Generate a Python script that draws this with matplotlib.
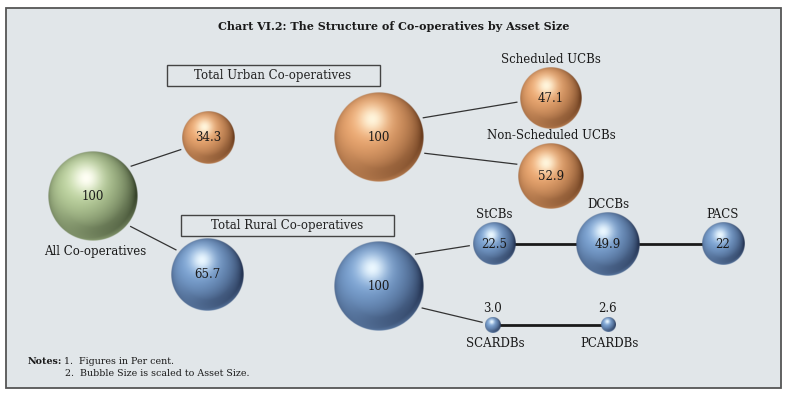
import numpy as np
import matplotlib.pyplot as plt
from matplotlib.patches import Rectangle

# ---- data ----
node_names = ['all', 'urban', 'rural', 'urban_tot', 'sched', 'nonsched',
              'rural_tot', 'stcb', 'dccb', 'pacs', 'scardb', 'pcardb']
node_values = [100, 34.3, 65.7, 100, 47.1, 52.9, 100, 22.5, 49.9, 22, 3.0, 2.6]
value_labels = ['100', '34.3', '65.7', '100', '47.1', '52.9', '100',
                '22.5', '49.9', '22', '3.0', '2.6']
name_labels = ['All Co-operatives', '', '', '', 'Scheduled UCBs', 'Non-Scheduled UCBs',
               '', 'StCBs', 'DCCBs', 'PACS', 'SCARDBs', 'PCARDBs']
groups = ['green', 'orange', 'blue', 'orange', 'orange', 'orange',
          'blue', 'blue', 'blue', 'blue', 'blue', 'blue']

# ---- layout (pixel space, y down) ----
pos = {'all': (93, 196), 'urban': (208, 137.5), 'rural': (207, 275),
       'urban_tot': (379, 137.5), 'sched': (551, 98), 'nonsched': (551, 176),
       'rural_tot': (379, 286), 'stcb': (494, 244), 'dccb': (608, 244),
       'pacs': (723, 244), 'scardb': (493, 325), 'pcardb': (608, 325)}
# where the value / name text goes
value_where = {'scardb': 'above', 'pcardb': 'above'}
name_where = {'all': 'below', 'scardb': 'below', 'pcardb': 'below'}
# thin connectors: (from, to, angle on from, angle on to) degrees, y down
thin_links = [('all', 'urban', -38, 156), ('all', 'rural', 39, -141),
              ('urban_tot', 'sched', -24, 173), ('urban_tot', 'nonsched', 19, -161),
              ('rural_tot', 'stcb', -41, 176), ('rural_tot', 'scardb', 27, 194)]
thick_links = [('stcb', 'dccb'), ('dccb', 'pacs'), ('scardb', 'pcardb')]

R100 = 45.0
colours = {'green': ((0.76, 0.85, 0.64), (1.0, 1.0, 0.96), (0.22, 0.27, 0.17)),
           'orange': ((0.95, 0.68, 0.46), (1.0, 0.96, 0.86), (0.42, 0.24, 0.12)),
           'blue': ((0.50, 0.66, 0.85), (0.92, 0.97, 1.0), (0.14, 0.20, 0.32))}

bg = '#e1e6e9'
serif = 'DejaVu Serif'


def sphere(base, light, dark, n=201):
    t = np.linspace(-1, 1, n)
    u, v = np.meshgrid(t, -t)
    rho = np.sqrt(u**2 + v**2)
    z = np.sqrt(np.clip(1 - rho**2, 0, 1))
    L = np.array([-0.3, 0.35, 0.88])
    L = L / np.linalg.norm(L)
    diff = np.clip(u * L[0] + v * L[1] + z * L[2], 0, 1)
    base = np.array(base); light = np.array(light); dark = np.array(dark)
    col = dark + (base - dark) * (diff[..., None] ** 0.9)
    spec = np.exp(-((u + 0.15)**2 + (v - 0.4)**2) / 0.1)
    col = col + (light - col) * spec[..., None]
    rim = np.clip(-v, 0, 1) * np.clip(rho - 0.7, 0, 1) / 0.3
    col = col + (base - col) * (0.6 * rim[..., None])
    col = np.clip(col, 0, 1)
    alpha = np.clip((1 - rho) * n / 2, 0, 1)
    return np.dstack([col, alpha])


fig = plt.figure(figsize=(7.89, 3.95), dpi=100)
ax = fig.add_axes([0, 0, 1, 1])
ax.set_xlim(0, 789)
ax.set_ylim(395, 0)
ax.axis('off')

ax.add_patch(Rectangle((6, 7.5), 775, 380.5, facecolor=bg, edgecolor='#555555', lw=1.3, zorder=0))

ax.text(394, 26, 'Chart VI.2: The Structure of Co-operatives by Asset Size',
        family=serif, weight='bold', fontsize=8, ha='center', va='center', color='#1a1a1a')

# boxes
for cx, cy, txt in [(273, 75.5, 'Total Urban Co-operatives'), (287, 225.5, 'Total Rural Co-operatives')]:
    ax.add_patch(Rectangle((cx - 105.5, cy - 10.5), 213, 21, facecolor=bg, edgecolor='#444444', lw=1.0, zorder=2))
    ax.text(cx, cy, txt, family=serif, fontsize=8.5, ha='center', va='center', color='#222222', zorder=3)

radius = {k: R100 * np.sqrt(v / 100.0) for k, v in zip(node_names, node_values)}


def edge_pt(name, ang, gap=3.5):
    x, y = pos[name]
    r = radius[name] + gap
    a = np.deg2rad(ang)
    return x + r * np.cos(a), y + r * np.sin(a)


for a, b, a1, a2 in thin_links:
    x1, y1 = edge_pt(a, a1)
    x2, y2 = edge_pt(b, a2)
    ax.plot([x1, x2], [y1, y2], color='#333333', lw=0.9, zorder=1)

for a, b in thick_links:
    x1, y1 = pos[a]
    x2, y2 = pos[b]
    ax.plot([x1 + radius[a], x2 - radius[b]], [y1, y2], color='#1a1a1a', lw=2.0, zorder=1)

for name, val, vl, nl, g in zip(node_names, node_values, value_labels, name_labels, groups):
    x, y = pos[name]
    r = radius[name]
    img = sphere(*colours[g])
    ax.imshow(img, extent=(x - r, x + r, y + r, y - r), interpolation='bilinear', zorder=4)
    if value_where.get(name) == 'above':
        ax.text(x, y - r - 9, vl, family=serif, fontsize=8.5, ha='center', va='center', color='#1a1a1a', zorder=5)
    else:
        ax.text(x, y, vl, family=serif, fontsize=8.5, ha='center', va='center', color='#1a1a1a', zorder=5)
    if nl:
        if name_where.get(name) == 'below':
            ax.text(x + 2, y + r + 11, nl, family=serif, fontsize=8.5, ha='center', va='center', color='#1a1a1a', zorder=5)
        else:
            ax.text(x, y - r - 8, nl, family=serif, fontsize=8.5, ha='center', va='center', color='#1a1a1a', zorder=5)

ax.text(28, 361, 'Notes:', family=serif, weight='bold', fontsize=6.8, va='center', color='#1a1a1a')
ax.text(64, 361, '1.  Figures in Per cent.', family=serif, fontsize=6.8, va='center', color='#1a1a1a')
ax.text(65, 373, '2.  Bubble Size is scaled to Asset Size.', family=serif, fontsize=6.8, va='center', color='#1a1a1a')

ax.set_xlim(0, 789)
ax.set_ylim(395, 0)
fig.savefig('out.png', dpi=100)
